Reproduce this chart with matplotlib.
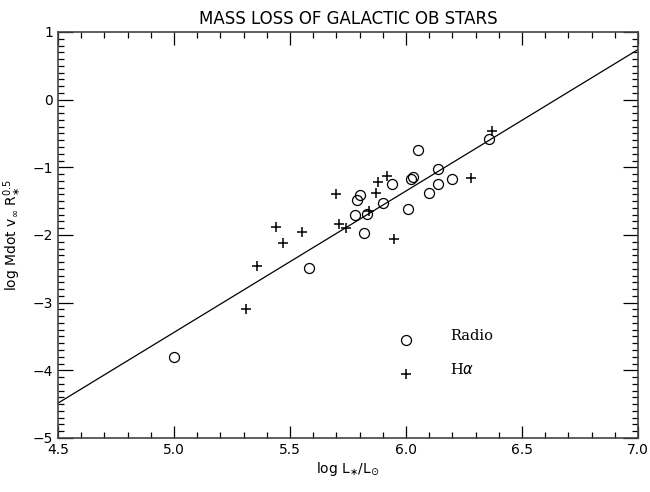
import numpy as np
import matplotlib
matplotlib.use("Agg")
import matplotlib.pyplot as plt
from matplotlib.ticker import MultipleLocator

# Radio mass-loss rates
radio_logL = [5.00, 5.58, 6.05, 6.36, 6.14, 6.03, 6.02, 5.94, 6.14, 6.20, 6.10,
              5.80, 5.79, 5.90, 6.01, 5.78, 5.83, 5.82]
radio_logM = [-3.80, -2.49, -0.74, -0.58, -1.02, -1.15, -1.17, -1.25, -1.24,
              -1.17, -1.38, -1.41, -1.48, -1.53, -1.61, -1.71, -1.69, -1.97]

# H-alpha mass-loss rates
ha_logL = [6.37, 6.28, 5.92, 5.88, 5.87, 5.70, 5.84, 5.71, 5.74, 5.95, 5.55,
           5.44, 5.47, 5.36, 5.31]
ha_logM = [-0.47, -1.16, -1.13, -1.22, -1.38, -1.39, -1.65, -1.84, -1.90,
           -2.06, -1.95, -1.88, -2.12, -2.46, -3.10]

# regression line
fit_slope = 2.09
fit_intercept = -13.89

fig = plt.figure(figsize=(6.5, 4.92), dpi=100)
ax = fig.add_axes([0.0892, 0.1098, 0.8923, 0.8252])

xl = np.array([4.5, 7.0])
ax.plot(xl, fit_slope * xl + fit_intercept, color="black", lw=0.9)

ax.plot(radio_logL, radio_logM, "o", mfc="none", mec="black", mew=0.9, ms=7.2)
ax.plot(ha_logL, ha_logM, "+", color="black", mew=1.1, ms=7.2)

# legend drawn as in the original plot
ax.plot([6.0], [-3.55], "o", mfc="none", mec="black", mew=0.9, ms=7.2)
ax.plot([6.0], [-4.05], "+", color="black", mew=1.1, ms=7.2)
ax.text(6.19, -3.49, "Radio", family="DejaVu Serif", fontsize=10.5, va="center")
ax.text(6.19, -3.99, r"H$\alpha$", family="DejaVu Serif", fontsize=10.5, va="center")

ax.set_xlim(4.5, 7.0)
ax.set_ylim(-5, 1)
ax.xaxis.set_major_locator(MultipleLocator(0.5))
ax.xaxis.set_minor_locator(MultipleLocator(0.1))
ax.yaxis.set_major_locator(MultipleLocator(1))
ax.yaxis.set_minor_locator(MultipleLocator(0.1))
ax.xaxis.set_major_formatter(plt.FuncFormatter(lambda v, p: f"{v:.1f}"))
ax.yaxis.set_major_formatter(plt.FuncFormatter(lambda v, p: f"{v:.0f}".replace("-", "\u2212")))
ax.tick_params(which="both", direction="in", top=True, right=True, labelsize=10)
ax.tick_params(axis="x", which="major", length=9, width=0.9)
ax.tick_params(axis="y", which="major", length=11, width=0.9)
ax.tick_params(which="minor", length=4.5, width=0.9)
for s in ax.spines.values():
    s.set_linewidth(1.2)
    s.set_color("#444444")

ax.set_title("MASS LOSS OF GALACTIC OB STARS", fontsize=12, pad=6)
ax.set_xlabel(r"log L$_{\ast}$/L$_{\odot}$", fontsize=10, labelpad=2)
ax.set_ylabel(r"log Mdot v$_{\infty}$ R$_{\ast}^{0.5}$", fontsize=10, labelpad=6)

fig.savefig("out.png", dpi=100)
